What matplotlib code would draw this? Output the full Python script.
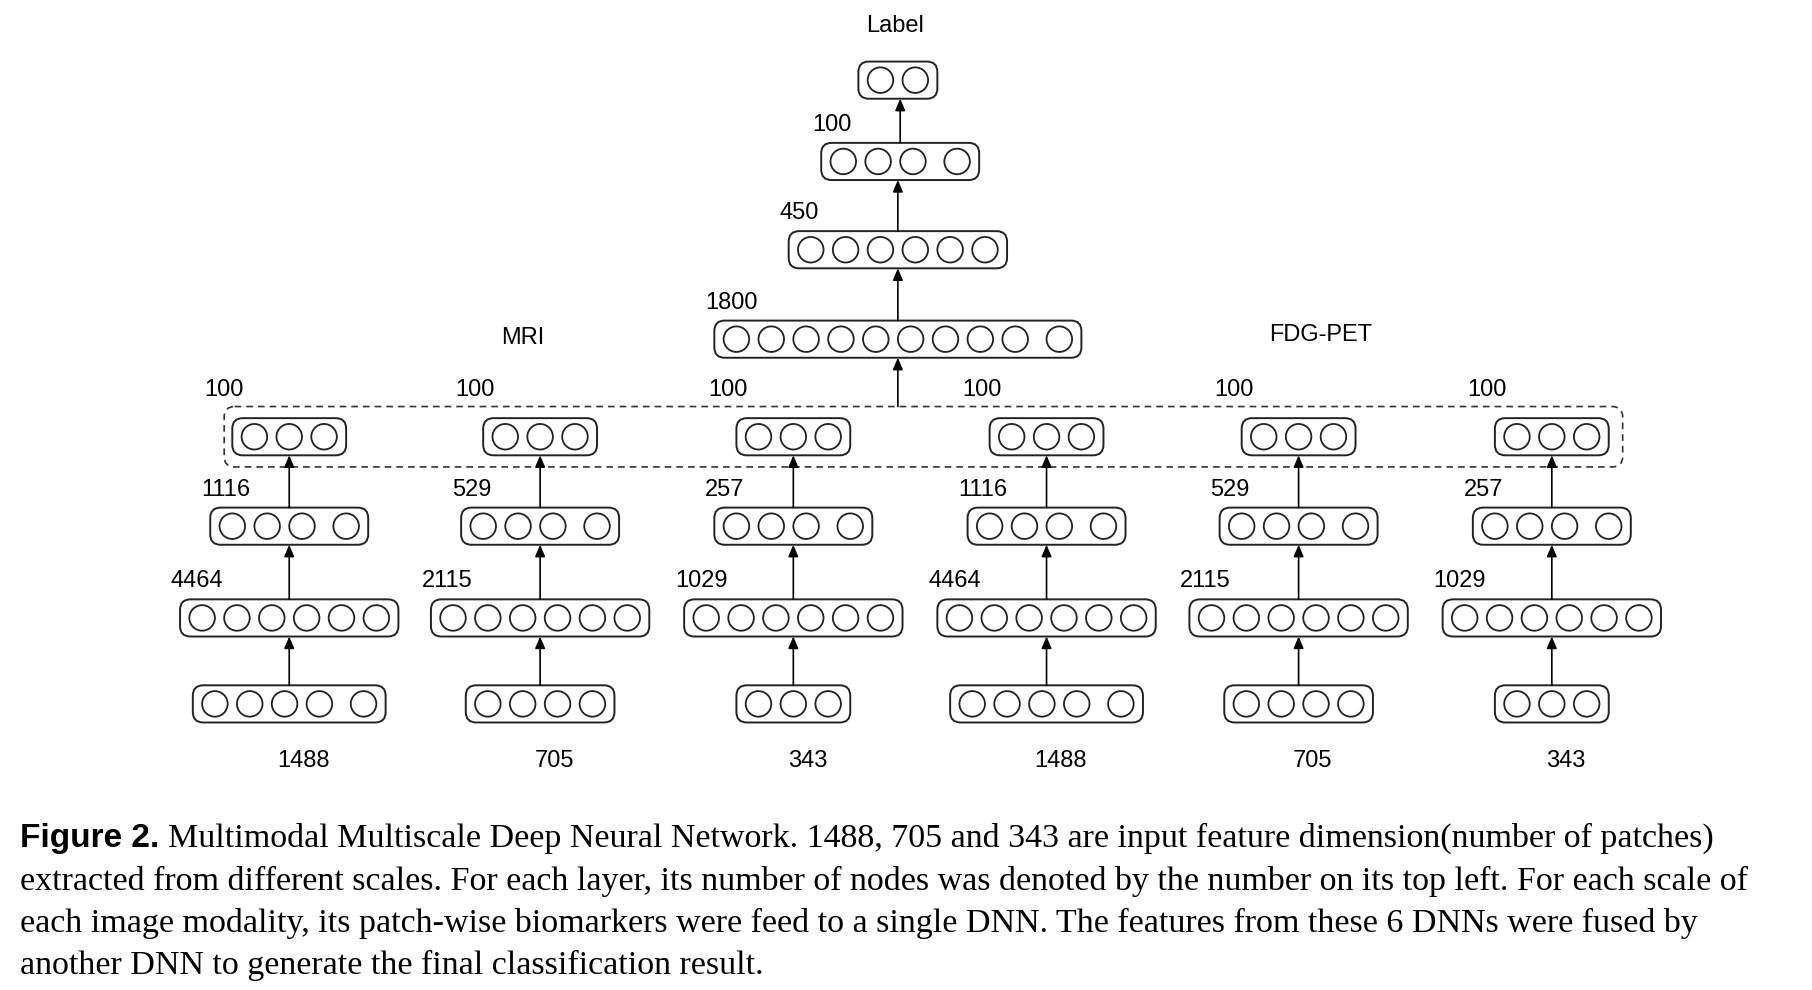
import matplotlib.pyplot as plt
from matplotlib.patches import FancyBboxPatch, Circle

# layer sizes per column (3 MRI scales, 3 FDG-PET scales)
input_dims = ["1488", "705", "343", "1488", "705", "343"]
hidden1 = ["4464", "2115", "1029", "4464", "2115", "1029"]
hidden2 = ["1116", "529", "257", "1116", "529", "257"]
outputs = ["100"] * 6
top_layers = ["1800", "450", "100"]
input_circles = [5, 4, 3, 5, 4, 3]

S = 1812 / 1560.0  # drawn in the 1560-wide reference coordinates
fig = plt.figure(figsize=(18.12, 9.90), dpi=100)
ax = fig.add_axes([0, 0, 1, 1])
ax.set_xlim(0, 1560)
ax.set_ylim(990 / S, 0)
ax.axis("off")

R = 11
GAP = 30
LF = dict(fontsize=17, family="Liberation Sans")


def layer(cx, cy, n, gap_last=False, label=None, lx=None, ly=None):
    pos = [i * GAP for i in range(n)]
    if gap_last:
        pos[-1] += 8
    off = (pos[0] + pos[-1]) / 2
    w = pos[-1] - pos[0] + 2 * R + 16
    h = 32
    ax.add_patch(FancyBboxPatch((cx - w / 2, cy - h / 2), w, h,
                                boxstyle="round,pad=0,rounding_size=9",
                                fc="white", ec="#222222", lw=1.4))
    for p in pos:
        ax.add_patch(Circle((cx + p - off, cy), R, fc="white", ec="#222222", lw=1.3))
    if label is not None:
        ax.text(lx if lx is not None else cx - w / 2 - 8,
                ly if ly is not None else cy - h / 2 - 6, label,
                ha="left", va="bottom", **LF)


def arrow(x, y0, y1):
    ax.annotate("", xy=(x, y1), xytext=(x, y0),
                arrowprops=dict(arrowstyle="-|>,head_width=0.3,head_length=0.7",
                                color="black", lw=1.2, shrinkA=0, shrinkB=0))


cols = [249, 465, 683, 901, 1118, 1336]
for i, cx in enumerate(cols):
    n_in = input_circles[i]
    layer(cx, 606, n_in, gap_last=n_in == 5)
    ax.text(cx + 12, 655, input_dims[i], ha="center", va="center", **LF)
    layer(cx, 532, 6, label=hidden1[i])
    layer(cx, 453, 4, gap_last=True, label=hidden2[i])
    layer(cx, 376, 3, label=outputs[i], lx=cx - 73, ly=345)
    arrow(cx, 590, 548)
    arrow(cx, 516, 469)
    arrow(cx, 437, 392)

ax.add_patch(FancyBboxPatch((193, 350), 1204, 52,
                            boxstyle="round,pad=0,rounding_size=9",
                            fc="none", ec="#333333", lw=1.2, ls=(0, (4, 3))))
arrow(773, 350, 308)

layer(773, 292, 10, gap_last=True, label=top_layers[0])
arrow(773, 276, 231)
layer(773, 215, 6, label=top_layers[1])
arrow(773, 199, 155)
layer(775, 139, 4, gap_last=True, label=top_layers[2])
arrow(775, 123, 85)
layer(773, 69, 2)
ax.text(771, 22, "Label", ha="center", va="center", **LF)
ax.text(450, 291, "MRI", ha="center", va="center", **LF)
ax.text(1137, 288, "FDG-PET", ha="center", va="center", **LF)

caption = [
    "Multimodal Multiscale Deep Neural Network. 1488, 705 and 343 are input feature dimension(number of patches)",
    "extracted from different scales. For each layer, its number of nodes was denoted by the number on its top left. For each scale of",
    "each image modality, its patch-wise biomarkers were feed to a single DNN. The features from these 6 DNNs were fused by",
    "another DNN to generate the final classification result.",
]
t = ax.text(17, 722, "Figure 2.", fontsize=24, family="Liberation Sans",
            weight="bold", va="center")
fig.canvas.draw()
bb = t.get_window_extent()
x_after = bb.x1 / S + 8
ax.text(x_after, 722, caption[0], fontsize=24.5, family="Liberation Serif", va="center")
for k, line in enumerate(caption[1:]):
    ax.text(17, 759 + 36 * k, line, fontsize=24.5, family="Liberation Serif", va="center")

fig.savefig("out.png", dpi=100)
